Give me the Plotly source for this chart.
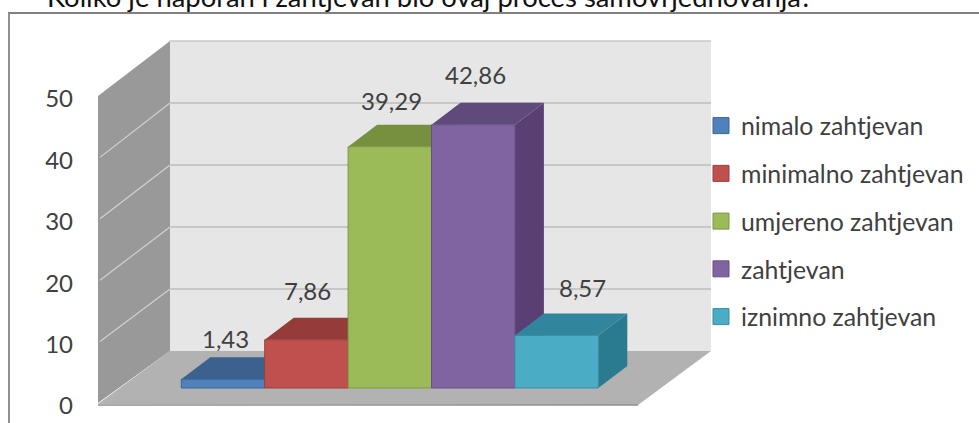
import plotly.graph_objects as go

title = "Koliko je naporan i zahtjevan bio ovaj proces samovrjednovanja?"
categories = ["nimalo zahtjevan", "minimalno zahtjevan", "umjereno zahtjevan", "zahtjevan", "iznimno zahtjevan"]
values = [1.43, 7.86, 39.29, 42.86, 8.57]
value_labels = ["1,43", "7,86", "39,29", "42,86", "8,57"]
tick_values = [0, 10, 20, 30, 40, 50]
tick_labels = ["0", "10", "20", "30", "40", "50"]

front_colors = ["#4F81BD", "#C0504D", "#9BBB59", "#8064A2", "#4BACC6"]
top_colors = ["#3B618F", "#953C3A", "#76903F", "#604A7B", "#31859C"]
side_colors = ["#365A85", "#8A3735", "#6D8539", "#5A3F75", "#2A7A90"]
edge_colors = ["#3A6496", "#9A3F3C", "#7C9647", "#664F82", "#3A8CA3"]

W, H = 979, 423
FONT = "Lato"
TEXT = "#404040"

# pixel calibration of the data plane
PX_PER_CAT = 83.4
PX_PER_UNIT = 6.14
X0_PX = 223.0
BASE_PX = 388.0
DEPTH_DX = 29 / PX_PER_CAT
DEPTH_DY = 22 / PX_PER_UNIT
FRONT_DROP = (406 - BASE_PX) / PX_PER_UNIT

x_range = [(0 - X0_PX) / PX_PER_CAT, (W - X0_PX) / PX_PER_CAT]
y_range = [(BASE_PX - H) / PX_PER_UNIT, BASE_PX / PX_PER_UNIT]


def poly_paper(pts):
    return "M" + "L".join(f"{x/W:.5f},{1-y/H:.5f}" for x, y in pts) + "Z"


def poly_data(pts):
    return "M" + "L".join(f"{x:.4f},{y:.4f}" for x, y in pts) + "Z"


shapes = []


def paper_poly(pts, fill, line=None, lw=0):
    shapes.append(dict(type="path", path=poly_paper(pts), xref="paper", yref="paper",
                       fillcolor=fill, line=dict(color=line or fill, width=lw), layer="below"))


def paper_line(p, q, color, lw):
    shapes.append(dict(type="line", xref="paper", yref="paper", x0=p[0]/W, y0=1-p[1]/H,
                       x1=q[0]/W, y1=1-q[1]/H, line=dict(color=color, width=lw), layer="below"))


# frame
paper_line((8, 13), (979, 13), "#808080", 2)
paper_line((9, 13), (9, 423), "#909090", 2)

# walls and floor
paper_poly([(170, 41), (711, 41), (711, 351), (170, 351)], "#E6E6E6")
paper_poly([(98, 96), (170, 41), (170, 351), (98, 403)], "#999999")
paper_poly([(98, 404), (170, 351), (711, 351), (638, 405)], "#B2B2B2")
paper_line((98, 405), (638, 405), "#8F8F8F", 1.5)
paper_line((170, 41), (711, 41), "#C8C8C8", 1.5)

# gridlines derived from tick values
for v in tick_values[1:-1]:
    back_y = 351 - 6.2 * v
    front_y = 403 - PX_PER_UNIT * v
    paper_line((170, back_y), (711, back_y), "#BDBDBD", 1.5)
    paper_line((100, front_y), (170, back_y), "#D2D2D2", 1.2)

# depth faces, left to right, driven by the values
for i, v in enumerate(values):
    l, r = i - 0.5, i + 0.5
    top = [(l, v), (r, v), (r + DEPTH_DX, v + DEPTH_DY), (l + DEPTH_DX, v + DEPTH_DY)]
    side = [(r, 0), (r + DEPTH_DX, DEPTH_DY), (r + DEPTH_DX, v + DEPTH_DY), (r, v)]
    shapes.append(dict(type="path", path=poly_data(side), xref="x", yref="y",
                       fillcolor=side_colors[i], line=dict(width=0), layer="below"))
    shapes.append(dict(type="path", path=poly_data(top), xref="x", yref="y",
                       fillcolor=top_colors[i], line=dict(width=0), layer="below"))

fig = go.Figure()
for i, (c, v) in enumerate(zip(categories, values)):
    fig.add_trace(go.Bar(x=[i], y=[v], width=1, name=c, legendgroup=c, showlegend=False,
                         marker=dict(color=front_colors[i], line=dict(color=edge_colors[i], width=1))))
for i, c in enumerate(categories):
    fig.add_trace(go.Scatter(x=[None], y=[None], name=c, legendgroup=c, mode="markers",
                             marker=dict(symbol="square", size=16, color=front_colors[i],
                                         line=dict(color=edge_colors[i], width=1))))

label_dy = [19, 27, 24, 28, 26]
label_dx = [2, 1, 2, 2, 26]
annotations = [
    dict(x=i, y=v + DEPTH_DY, xref="x", yref="y", text=t, showarrow=False,
         xshift=label_dx[i], yshift=label_dy[i], xanchor="center", yanchor="middle",
         font=dict(family=FONT, size=24, color=TEXT))
    for i, (v, t) in enumerate(zip(values, value_labels))
]
annotations.append(dict(x=45/W, y=1, xref="paper", yref="paper", xanchor="left", yanchor="middle",
                        yshift=4, text=title, showarrow=False,
                        font=dict(family=FONT, size=27.4, color="#111111")))

fig.update_layout(
    width=W, height=H, margin=dict(l=0, r=0, t=0, b=0), autosize=False,
    paper_bgcolor="white", plot_bgcolor="rgba(0,0,0,0)",
    barmode="overlay", shapes=shapes, annotations=annotations,
    xaxis=dict(visible=False, range=x_range, domain=[0, 1], fixedrange=True),
    yaxis=dict(range=y_range, domain=[0, 1], anchor="free", position=73/W, side="left",
               tickmode="array", tickvals=[t - FRONT_DROP for t in tick_values], ticktext=tick_labels,
               showgrid=False, zeroline=False, showline=False, ticks="",
               tickfont=dict(family=FONT, size=24, color=TEXT), fixedrange=True),
    legend=dict(x=701/W, y=1-103/H, xanchor="left", yanchor="top", bgcolor="rgba(0,0,0,0)",
                tracegroupgap=12.5, font=dict(family=FONT, size=24.8, color=TEXT),
                traceorder="grouped"),
    showlegend=True,
)
fig.write_html("out.html", config=dict(displayModeBar=False),
               post_script="document.body.style.margin='0';document.documentElement.style.overflow='hidden';")
